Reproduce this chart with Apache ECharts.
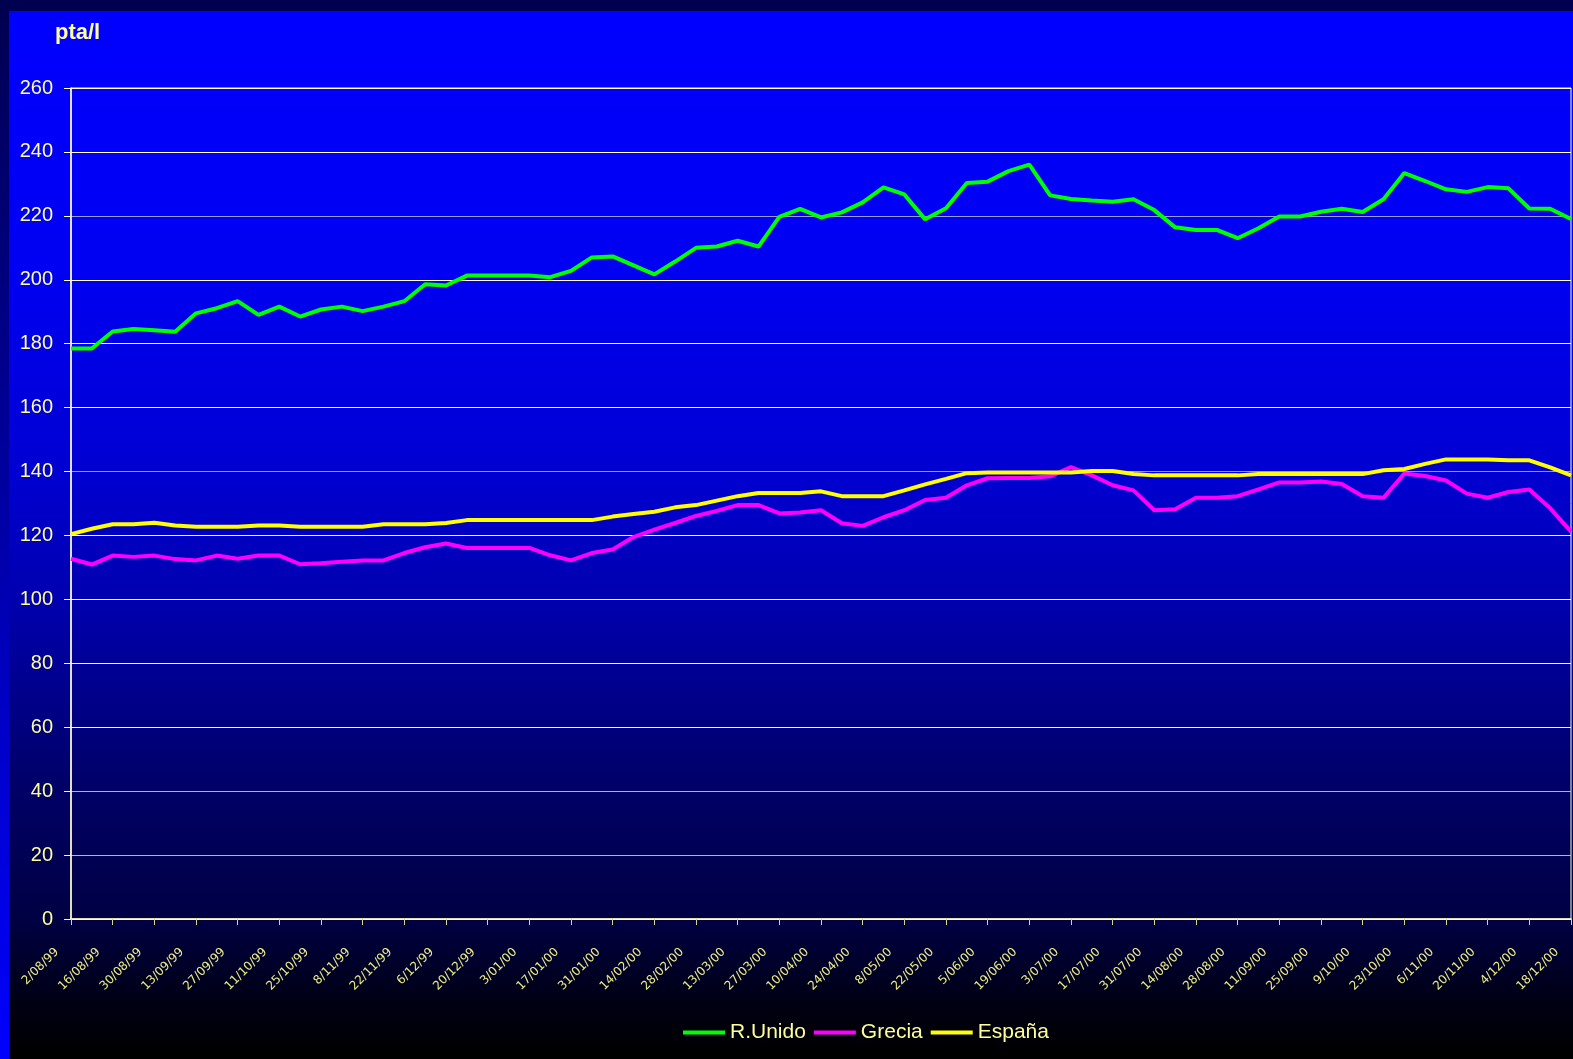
<!DOCTYPE html>
<html>
<head>
<meta charset="utf-8">
<title>pta/l</title>
<script src="https://cdn.jsdelivr.net/npm/echarts@6/dist/echarts.min.js"></script>
<style>
  html, body { margin: 0; padding: 0; background: #000050; }
  #chart { width: 1573px; height: 1059px; }
</style>
</head>
<body>
<div id="chart"></div>
<script>
// weekly dates, labelled every second week
const weeks = [
  '2/08/99', '9/08/99', '16/08/99', '23/08/99', '30/08/99', '6/09/99', '13/09/99', '20/09/99',
  '27/09/99', '4/10/99', '11/10/99', '18/10/99', '25/10/99', '1/11/99', '8/11/99', '15/11/99',
  '22/11/99', '29/11/99', '6/12/99', '13/12/99', '20/12/99', '27/12/99', '3/01/00', '10/01/00',
  '17/01/00', '24/01/00', '31/01/00', '7/02/00', '14/02/00', '21/02/00', '28/02/00', '6/03/00',
  '13/03/00', '20/03/00', '27/03/00', '3/04/00', '10/04/00', '17/04/00', '24/04/00', '1/05/00',
  '8/05/00', '15/05/00', '22/05/00', '29/05/00', '5/06/00', '12/06/00', '19/06/00', '26/06/00',
  '3/07/00', '10/07/00', '17/07/00', '24/07/00', '31/07/00', '7/08/00', '14/08/00', '21/08/00',
  '28/08/00', '4/09/00', '11/09/00', '18/09/00', '25/09/00', '2/10/00', '9/10/00', '16/10/00',
  '23/10/00', '30/10/00', '6/11/00', '13/11/00', '20/11/00', '27/11/00', '4/12/00', '11/12/00',
  '18/12/00'
]

const rUnido = [
  178.5, 178.5, 183.8, 184.6, 184.2, 183.7, 189.5, 191.1, 193.3, 189.0, 191.6, 188.5, 190.7,
  191.6, 190.2, 191.6, 193.3, 198.6, 198.2, 201.3, 201.3, 201.3, 201.3, 200.8, 202.8, 207.0,
  207.3, 204.5, 201.7, 205.7, 210.0, 210.4, 212.2, 210.4, 219.7, 222.2, 219.5, 221.1, 224.2,
  228.9, 226.7, 218.9, 222.4, 230.3, 230.7, 234.0, 236.0, 226.4, 225.3, 224.8, 224.4, 225.2,
  221.8, 216.4, 215.6, 215.6, 213.0, 216.1, 219.8, 219.8, 221.3, 222.2, 221.2, 225.2, 233.4,
  230.9, 228.3, 227.5, 229.0, 228.6, 222.3, 222.2, 219.0
]

const grecia = [
  112.7, 110.9, 113.7, 113.3, 113.7, 112.6, 112.2, 113.7, 112.7, 113.7, 113.7, 111.0, 111.3,
  111.8, 112.2, 112.2, 114.5, 116.3, 117.5, 116.1, 116.1, 116.1, 116.1, 113.8, 112.2, 114.5,
  115.6, 119.5, 121.8, 123.9, 126.1, 127.7, 129.5, 129.5, 126.9, 127.2, 127.9, 123.8, 123.0,
  125.7, 127.9, 131.1, 131.8, 135.7, 137.9, 138.0, 138.0, 138.5, 141.4, 138.8, 135.7, 134.1,
  127.9, 128.2, 131.8, 131.8, 132.3, 134.4, 136.6, 136.6, 136.9, 136.1, 132.3, 131.8, 139.4,
  138.6, 137.2, 133.1, 131.8, 133.6, 134.4, 128.5, 121.2
]

const espana = [
  120.4, 122.1, 123.5, 123.5, 124.0, 123.1, 122.7, 122.7, 122.7, 123.1, 123.1, 122.7, 122.7,
  122.7, 122.7, 123.5, 123.5, 123.5, 123.9, 124.8, 124.8, 124.8, 124.8, 124.8, 124.8, 124.8,
  125.9, 126.7, 127.4, 128.8, 129.5, 130.9, 132.3, 133.3, 133.3, 133.3, 133.8, 132.3, 132.3,
  132.3, 134.1, 136.0, 137.7, 139.5, 139.7, 139.7, 139.7, 139.7, 139.7, 140.2, 140.2, 139.2,
  138.8, 138.8, 138.8, 138.8, 138.8, 139.2, 139.2, 139.2, 139.2, 139.2, 139.2, 140.4, 140.8,
  142.4, 143.8, 143.8, 143.8, 143.5, 143.5, 141.3, 138.8
]

const txt = '#ffff99'
const pale = '#ffffc4'
const font = 'Liberation Sans, Arial, sans-serif'

const chart = echarts.init(document.getElementById('chart'))

const option = {
  animation: false,
  graphic: [
    {
      type: 'rect',
      z: -20,
      silent: true,
      shape: { x: 0, y: 0, width: 1573, height: 1059 },
      style: {
        fill: new echarts.graphic.LinearGradient(0, 0, 0, 1, [
          { offset: 0, color: '#000050' },
          { offset: 0.5, color: '#0000a8' },
          { offset: 1, color: '#0000ff' },
        ]),
      },
    },
    {
      type: 'rect',
      z: -10,
      silent: true,
      shape: { x: 9, y: 11, width: 1564, height: 1048 },
      style: {
        fill: new echarts.graphic.LinearGradient(0, 0, 0, 1, [
          { offset: 0, color: '#0000ff' },
          { offset: 0.25, color: '#0000f2' },
          { offset: 0.44, color: '#0000d2' },
          { offset: 0.56, color: '#0000b0' },
          { offset: 0.74, color: '#000068' },
          { offset: 0.87, color: '#000042' },
          { offset: 0.95, color: '#000012' },
          { offset: 1, color: '#000000' },
        ]),
      },
    },
  ],
  title: {
    text: 'pta/l',
    left: 55,
    top: 22,
    padding: 0,
    textStyle: { color: txt, fontSize: 22, fontWeight: 'bold', fontFamily: font },
  },
  legend: {
    left: 678,
    top: 1017,
    itemWidth: 42,
    itemHeight: 4,
    itemGap: 8,
    icon: 'rect',
    textStyle: { color: txt, fontSize: 21, fontFamily: font },
    data: ['R.Unido', 'Grecia', 'España'],
  },
  grid: {
    left: 71,
    right: 2,
    top: 88,
    bottom: 140,
    show: true,
    borderColor: pale,
    borderWidth: 1,
  },
  xAxis: {
    type: 'category',
    data: weeks,
    boundaryGap: false,
    axisLine: { lineStyle: { color: pale, width: 1.5 } },
    axisTick: { show: true, interval: 1, length: 6, lineStyle: { color: '#d8d890' } },
    axisLabel: {
      interval: 1,
      rotate: 45,
      margin: 17,
      padding: [0, 20, 0, 0],
      color: '#eeee88',
      fontSize: 12,
      fontFamily: 'DejaVu Sans, sans-serif',
    },
    splitLine: { show: false },
  },
  yAxis: {
    type: 'value',
    min: 0,
    max: 260,
    interval: 20,
    axisLine: { show: true, lineStyle: { color: pale, width: 1.5 } },
    axisTick: { show: true, length: 7, lineStyle: { color: pale } },
    axisLabel: { color: txt, fontSize: 20, margin: 18, fontFamily: font },
    splitLine: {
      show: true,
      lineStyle: {
        width: 1,
        color: [
          pale, '#b8b8a0', '#b8b8a0', pale, pale, pale, pale,
          '#9a9ae0', pale, pale, pale, '#9a9ae0', pale, pale,
        ],
      },
    },
  },
  series: [
    {
      name: 'R.Unido',
      type: 'line',
      data: rUnido,
      symbol: 'none',
      color: '#00ff00',
      lineStyle: { width: 4 },
    },
    {
      name: 'Grecia',
      type: 'line',
      data: grecia,
      symbol: 'none',
      color: '#ff00ff',
      lineStyle: { width: 4 },
    },
    {
      name: 'España',
      type: 'line',
      data: espana,
      symbol: 'none',
      color: '#ffff00',
      lineStyle: { width: 4 },
    },
  ],
}
chart.setOption(option)
</script>
</body>
</html>
